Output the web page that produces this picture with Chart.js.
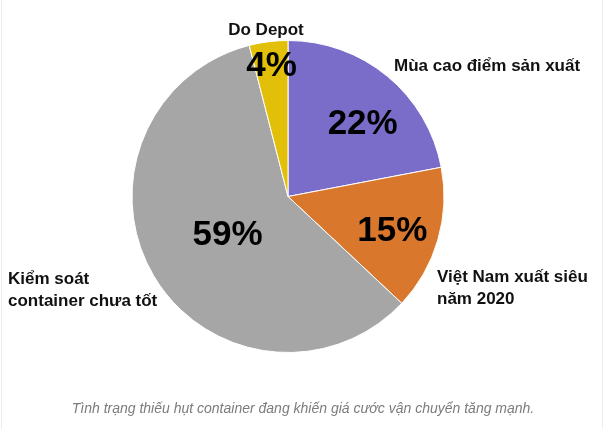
<!DOCTYPE html>
<html>
<head>
<meta charset="utf-8">
<script src="https://cdn.jsdelivr.net/npm/chart.js@4/dist/chart.umd.min.js"></script>
<style>
html,body{margin:0;padding:0;background:#fff;}
#wrap{width:605px;height:429px;position:relative;}
</style>
</head>
<body>
<div id="wrap"><canvas id="c" width="605" height="429"></canvas></div>
<script>
const categories = ["Mùa cao điểm sản xuất", "Việt Nam xuất siêu năm 2020", "Kiểm soát container chưa tốt", "Do Depot"];
const values = [22, 15, 59, 4];
const colors = ["#7A6CC9", "#D9782C", "#A6A6A6", "#E2BF08"];
const caption = "Tình trạng thiếu hụt container đang khiến giá cước vận chuyển tăng mạnh.";

// label styling / placement (not data)
const pctRadius = [0.68, 0.70, 0.45, 0.86];
const pctAngleFrac = [0.565, 0.52, 0.50, 0.51];
const outerLabels = [
  {lines: ["Mùa cao điểm sản xuất"], x: 394, y: 66, align: "left"},
  {lines: ["Việt Nam xuất siêu", "năm 2020"], x: 437, y: 277, align: "left"},
  {lines: ["Kiểm soát", "container chưa tốt"], x: 8, y: 279, align: "left"},
  {lines: ["Do Depot"], x: 266, y: 30, align: "center"}
];

const labelPlugin = {
  id: "labels",
  beforeDraw(chart) {
    const ctx = chart.ctx;
    ctx.save();
    ctx.strokeStyle = "#ececec";
    ctx.lineWidth = 1;
    ctx.beginPath();
    ctx.moveTo(1.5, 0); ctx.lineTo(1.5, 429);
    ctx.moveTo(602.5, 0); ctx.lineTo(602.5, 429);
    ctx.stroke();
    ctx.restore();
  },
  afterDatasetsDraw(chart) {
    const ctx = chart.ctx;
    const meta = chart.getDatasetMeta(0);
    ctx.save();
    ctx.fillStyle = "#000";
    ctx.textBaseline = "alphabetic";
    ctx.textAlign = "center";
    ctx.font = "bold 35px 'Liberation Sans', Arial, sans-serif";
    meta.data.forEach((arc, i) => {
      const p = arc.getProps(["x", "y", "startAngle", "endAngle", "outerRadius"], true);
      const a = p.startAngle + (p.endAngle - p.startAngle) * pctAngleFrac[i];
      const r = p.outerRadius * pctRadius[i];
      ctx.fillText(values[i] + "%", p.x + Math.cos(a) * r, p.y + Math.sin(a) * r + 12.5);
    });
    ctx.textBaseline = "middle";
    ctx.font = "bold 17px 'Liberation Sans', Arial, sans-serif";
    ctx.fillStyle = "#111";
    outerLabels.forEach(l => {
      ctx.textAlign = l.align;
      l.lines.forEach((t, k) => ctx.fillText(t, l.x, l.y + k * 22));
    });
    ctx.textBaseline = "alphabetic";
    ctx.font = "italic 14px 'Liberation Sans', Arial, sans-serif";
    ctx.fillStyle = "#7c7c7c";
    ctx.textAlign = "center";
    ctx.fillText(caption, 303, 413);
    ctx.restore();
  }
};

new Chart(document.getElementById("c"), {
  type: "pie",
  data: {
    labels: categories,
    datasets: [{
      data: values,
      backgroundColor: colors,
      borderColor: "#ffffff",
      borderWidth: 1
    }]
  },
  options: {
    responsive: false,
    animation: false,
    layout: {padding: {top: 40, bottom: 76, left: 100, right: 129}},
    plugins: {legend: {display: false}, tooltip: {enabled: false}}
  },
  plugins: [labelPlugin]
});
</script>
</body>
</html>
